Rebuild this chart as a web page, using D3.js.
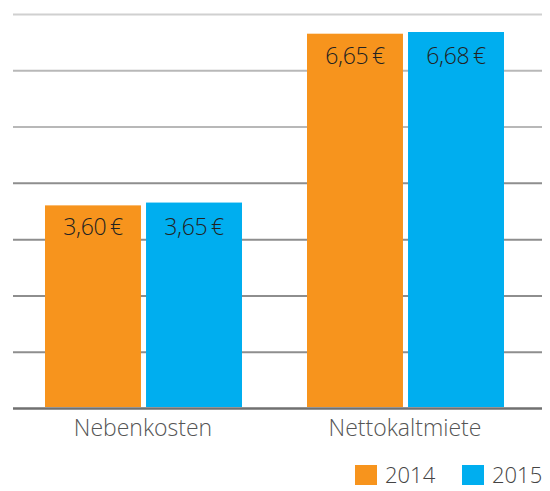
<!DOCTYPE html>
<html>
<head>
<meta charset="utf-8">
<script src="https://cdn.jsdelivr.net/npm/d3@7"></script>
<style>
  body { margin: 0; background: #fff; }
  text { font-family: 'Open Sans', sans-serif; }
</style>
</head>
<body>
<script>
// data
const categories = ['Nebenkosten', 'Nettokaltmiete'];
const years = ['2014', '2015'];
const values2014 = [3.60, 6.65];
const values2015 = [3.65, 6.68];
const gridTicks = [0, 1, 2, 3, 4, 5, 6, 7];

const svgWid = 550;
const svgHt = 491;
const colors = {'2014': '#F7941D', '2015': '#00AEEF'};

const data = categories.map((c, i) => ({
    cat: c,
    vals: [{year: '2014', value: values2014[i]}, {year: '2015', value: values2015[i]}]
}));

const svg = d3.select('body').append('svg').attr('width', svgWid).attr('height', svgHt);

// scales
const yScale = d3.scaleLinear().domain([0, 7]).range([408, 14]);
const x0 = d3.scaleBand().domain(categories).range([12, 536]).padding(0);
const x1 = d3.scaleBand().domain(years).range([33, 230]).paddingInner(0.05);

// gridlines (no labels), top ones lighter
const gridColor = t => t === 7 ? '#d0d0d0' : t >= 5 ? '#b8b8b8' : t === 0 ? '#707070' : '#8e8e8e';
const yAxis = d3.axisLeft(yScale).tickValues(gridTicks).tickSize(-(542 - 13)).tickFormat('');
const yAxisG = svg.append('g').attr('transform', 'translate(13,0)').call(yAxis);
yAxisG.select('.domain').remove();
yAxisG.selectAll('.tick line')
    .attr('stroke', d => gridColor(d))
    .attr('stroke-width', d => d === 0 ? 2.5 : 2);

// bars
const groups = svg.selectAll('.grp').data(data).enter()
    .append('g').attr('class', 'grp')
    .attr('transform', d => `translate(${x0(d.cat)},0)`);

groups.selectAll('rect').data(d => d.vals).enter()
    .append('rect')
    .attr('x', d => x1(d.year))
    .attr('width', x1.bandwidth())
    .attr('y', d => yScale(d.value))
    .attr('height', d => yScale(0) - yScale(d.value) - 1)
    .attr('fill', d => colors[d.year]);

// value labels, aligned per group
const fmt = v => d3.format('.2f')(v).replace('.', ',') + '\u2009€';
groups.each(function(g) {
    const top = yScale(d3.max(g.vals, d => d.value));
    d3.select(this).selectAll('.lbl').data(g.vals).enter()
        .append('text').attr('class', 'lbl')
        .attr('x', d => x1(d.year) + x1.bandwidth() / 2)
        .attr('y', top + 32)
        .attr('text-anchor', 'middle')
        .attr('font-size', '23px')
        .attr('font-weight', 300)
        .attr('letter-spacing', '-0.3px')
        .attr('fill', '#222')
        .text(d => fmt(d.value));
});

// x axis labels
svg.selectAll('.catLbl').data(categories).enter()
    .append('text').attr('class', 'catLbl')
    .attr('x', d => x0(d) + x0.bandwidth() / 2)
    .attr('y', 436)
    .attr('text-anchor', 'middle')
    .attr('font-size', '23px')
    .attr('font-weight', 300)
    .attr('fill', '#555')
    .text(d => d);

// legend
const legendX = [355, 462];
const legend = svg.selectAll('.leg').data(years).enter()
    .append('g').attr('class', 'leg')
    .attr('transform', (d, i) => `translate(${legendX[i]},465)`);
legend.append('rect').attr('width', 22).attr('height', 20).attr('fill', d => colors[d]);
legend.append('text').attr('x', 30).attr('y', 18)
    .attr('font-size', '22px').attr('font-weight', 300).attr('fill', '#444')
    .text(d => d);
</script>
</body>
</html>
